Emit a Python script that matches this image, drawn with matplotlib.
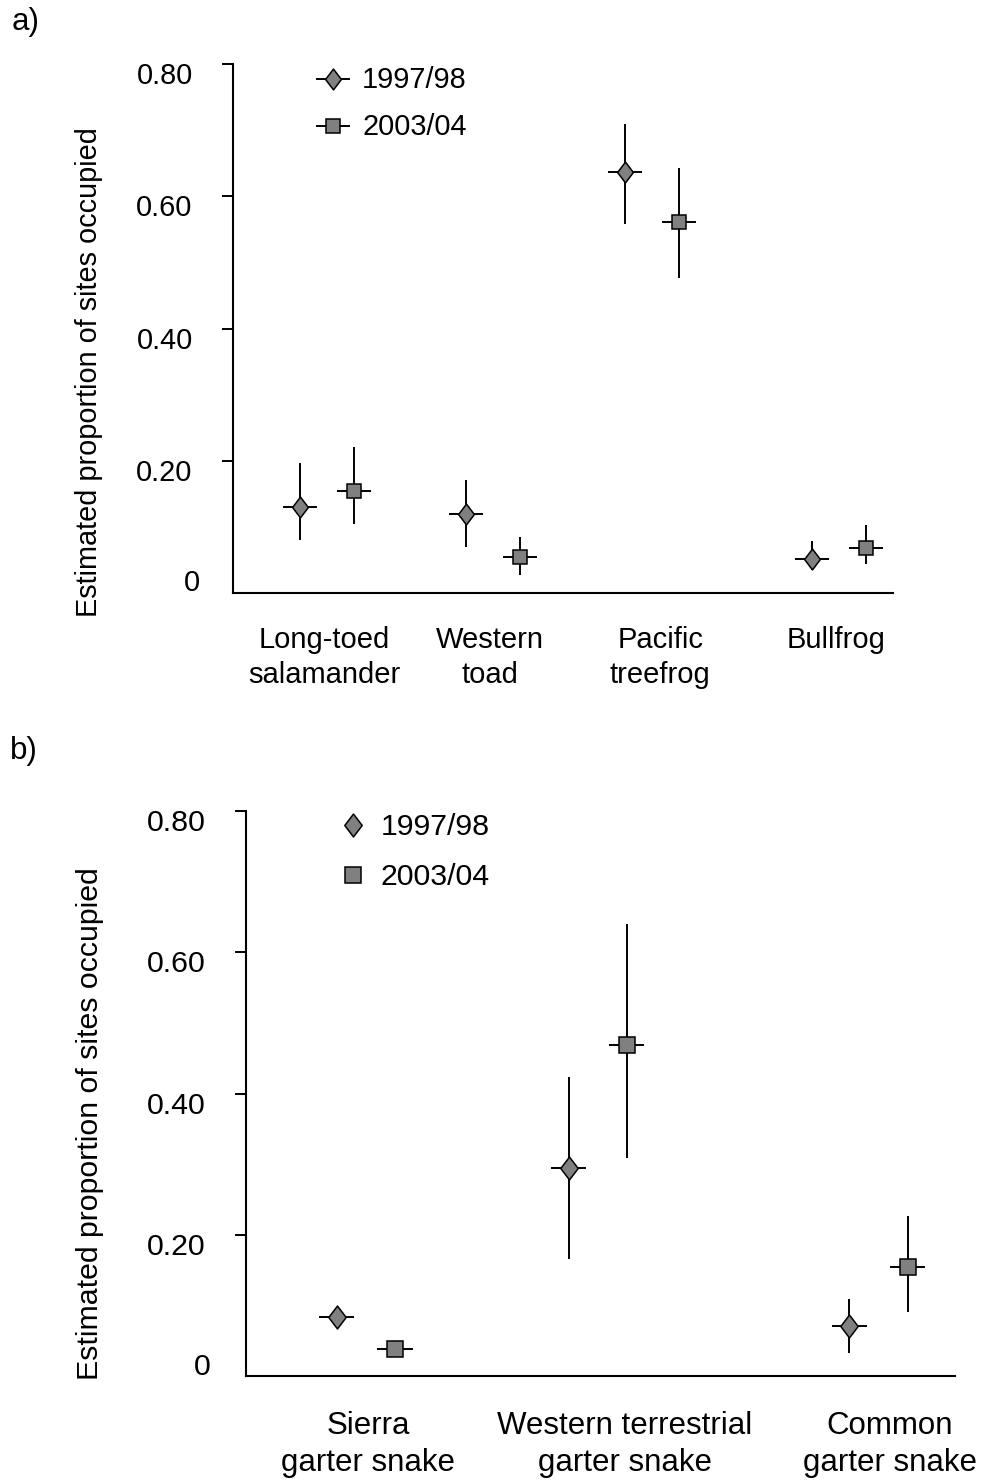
import numpy as np
import matplotlib.pyplot as plt
from matplotlib.path import Path
from matplotlib.transforms import ScaledTranslation

plt.rcParams['font.family'] = ['Liberation Sans', 'DejaVu Sans']

# ---- data: a) amphibians
a_species = ["Long-toed\nsalamander", "Western\ntoad", "Pacific\ntreefrog", "Bullfrog"]
a_9798 = [0.130, 0.120, 0.636, 0.052]
a_9798_lo = [0.080, 0.070, 0.558, 0.035]
a_9798_hi = [0.197, 0.171, 0.709, 0.079]
a_0304 = [0.155, 0.055, 0.561, 0.068]
a_0304_lo = [0.105, 0.027, 0.476, 0.044]
a_0304_hi = [0.221, 0.085, 0.642, 0.103]

# ---- data: b) snakes
b_species = ["Sierra\ngarter snake", "Western terrestrial\ngarter snake", "Common\ngarter snake"]
b_9798 = [0.084, 0.295, 0.071]
b_9798_lo = [0.084, 0.165, 0.033]
b_9798_hi = [0.084, 0.423, 0.109]
b_0304 = [0.038, 0.468, 0.155]
b_0304_lo = [0.038, 0.308, 0.091]
b_0304_hi = [0.038, 0.640, 0.227]

years = ["1997/98", "2003/04"]
y_ticks = [0.2, 0.4, 0.6, 0.8]
y_ticklabels = ["0.20", "0.40", "0.60", "0.80"]

# ---- layout (category units)
a_centres = [0.0, 0.976, 1.91, 3.01]
a_labelpos = [-0.018, 0.959, 1.96, 2.994]
a_offset, a_hbar, a_xlim = 0.159, 0.1, (-0.553, 3.33)
b_centres = [0.0, 0.885, 1.958]
b_labelpos = [0.008, 0.99, 2.0]
b_offset, b_hbar, b_xlim = 0.111, 0.067, (-0.458, 2.25)

W, H = 987, 1483
GREY = '#808080'
diamond = Path([(0, 1), (0.76, 0), (0, -1), (-0.76, 0), (0, 1)],
               [Path.MOVETO, Path.LINETO, Path.LINETO, Path.LINETO, Path.CLOSEPOLY])


def px_axes(left, top, right, bottom):
    return [left / W, 1 - bottom / H, (right - left) / W, (bottom - top) / H]


def draw_panel(ax, centres, offset, hbar, xlim, vals, los, his, mk, msize, fs):
    for i, (v, lo, hi) in enumerate(zip(vals, los, his)):
        x = np.array(centres) + (-offset if i == 0 else offset)
        v = np.array(v)
        yerr = [v - np.array(lo), np.array(hi) - v]
        ax.errorbar(x, v, yerr=yerr, xerr=hbar, fmt='none', ecolor='black',
                    elinewidth=1.4, capsize=0, zorder=2)
        ax.plot(x, v, linestyle='none', marker=mk[i], markersize=msize[i],
                markerfacecolor=GREY, markeredgecolor='black',
                markeredgewidth=1.1, zorder=3)
    ax.set_xlim(*xlim)
    ax.set_ylim(0, 0.8)
    for s in ['top', 'right']:
        ax.spines[s].set_visible(False)
    for s in ['left', 'bottom']:
        ax.spines[s].set_linewidth(1.5)
    ax.set_yticks(y_ticks)
    ax.set_yticklabels(y_ticklabels, fontsize=fs)
    ax.tick_params(axis='y', direction='out', length=8, width=1.4, pad=21)
    shift = ScaledTranslation(0, -9 / 100, fig.dpi_scale_trans)
    for lab in ax.get_yticklabels():
        lab.set_transform(lab.get_transform() + shift)


fig = plt.figure(figsize=(W / 100, H / 100), dpi=100)

# ---- panel a
ax_a = fig.add_axes(px_axes(233, 64, 893, 593))
draw_panel(ax_a, a_centres, a_offset, a_hbar, a_xlim,
           [a_9798, a_0304], [a_9798_lo, a_0304_lo], [a_9798_hi, a_0304_hi],
           [diamond, 's'], [15, 9.8], 20.8)
ax_a.set_xticks(a_labelpos)
ax_a.set_xticklabels(a_species, fontsize=21, linespacing=1.3)
ax_a.tick_params(axis='x', length=0, pad=24)
ax_a.text(-0.05, 0.015, "0", transform=ax_a.get_yaxis_transform(),
          ha='right', va='center', fontsize=20.8)

# legend a (markers with line)
for k, (yy, mk, ms) in enumerate([(79, diamond, 15), (126, 's', 9.8)]):
    fig.add_artist(plt.Line2D([317 / W, 349 / W], [1 - yy / H] * 2, color='black', lw=1.4))
    fig.add_artist(plt.Line2D([333 / W], [1 - yy / H], linestyle='none', marker=mk,
                              markersize=ms, markerfacecolor=GREY,
                              markeredgecolor='black', markeredgewidth=1.1))
    fig.text(362 / W, 1 - (yy + 1) / H, years[k], ha='left', va='center', fontsize=20.8)

fig.text(89 / W, 1 - 372 / H, "Estimated proportion of sites occupied",
         rotation=90, ha='center', va='center', fontsize=20.8)
fig.text(12 / W, 1 - 22 / H, "a)", ha='left', va='center', fontsize=22.5)

# ---- panel b
ax_b = fig.add_axes(px_axes(246, 811, 955, 1376))
draw_panel(ax_b, b_centres, b_offset, b_hbar, b_xlim,
           [b_9798, b_0304], [b_9798_lo, b_0304_lo], [b_9798_hi, b_0304_hi],
           [diamond, 's'], [16.5, 11], 21.8)
ax_b.set_xticks(b_labelpos)
ax_b.set_xticklabels(b_species, fontsize=22.5, linespacing=1.3)
ax_b.tick_params(axis='x', length=0, pad=25)
for lab in ax_b.get_xticklabels():
    lab.set_clip_on(False)
ax_b.text(-0.05, 0.013, "0", transform=ax_b.get_yaxis_transform(),
          ha='right', va='center', fontsize=21.8)

# legend b (markers only)
for k, (yy, mk, ms) in enumerate([(825, diamond, 16.5), (875, 's', 11)]):
    fig.add_artist(plt.Line2D([353 / W], [1 - yy / H], linestyle='none', marker=mk,
                              markersize=ms, markerfacecolor=GREY,
                              markeredgecolor='black', markeredgewidth=1.1))
    fig.text(381 / W, 1 - (yy + 2) / H, years[k], ha='left', va='center', fontsize=21.8)

fig.text(90 / W, 1 - 1124 / H, "Estimated proportion of sites occupied",
         rotation=90, ha='center', va='center', fontsize=21.8)
fig.text(10 / W, 1 - 751 / H, "b)", ha='left', va='center', fontsize=22.5)

fig.savefig("out.png", dpi=100)
